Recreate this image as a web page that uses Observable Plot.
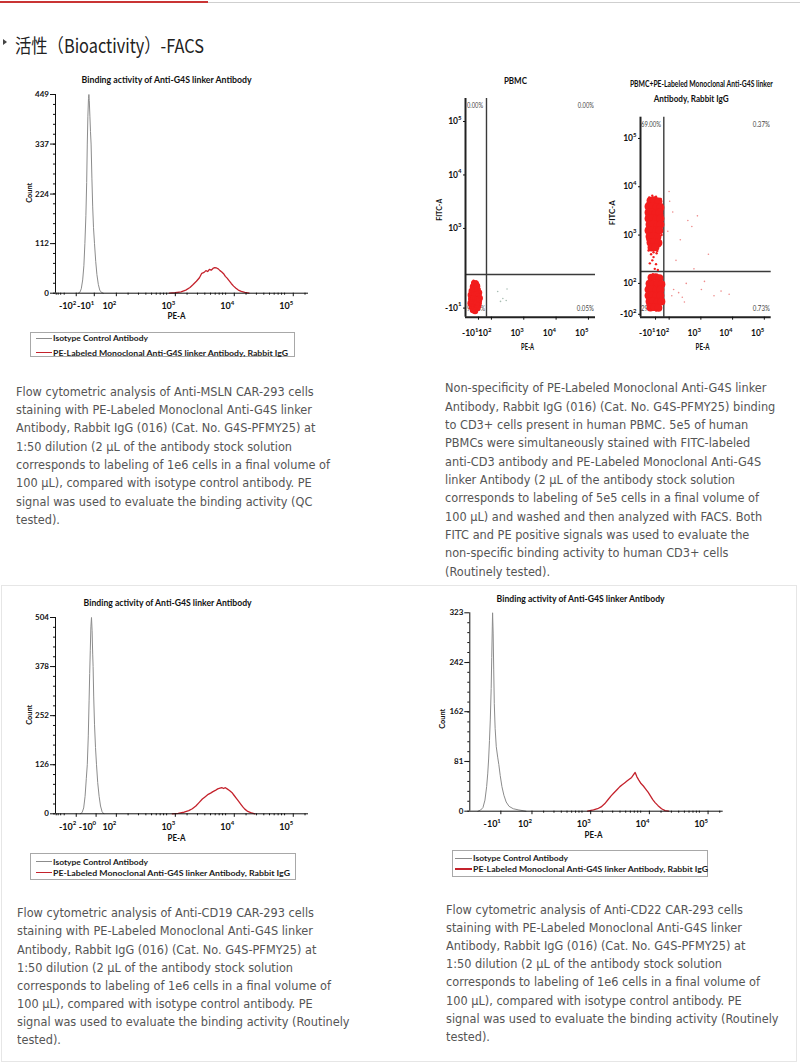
<!DOCTYPE html>
<html><head><meta charset="utf-8">
<script src="https://cdn.jsdelivr.net/npm/d3@7"></script>
<script src="https://cdn.jsdelivr.net/npm/@observablehq/plot@0.6"></script>
<style>
body{margin:0;background:#fff;}
#page{position:relative;width:800px;height:1064px;overflow:hidden;background:#fff;}
.lbl{position:absolute;white-space:nowrap;line-height:1;}
.chart{position:absolute;z-index:2;}
.chart svg{overflow:visible;}
</style></head><body><div id="page"></div>
<script>
// ---------------- DATA ----------------
// Panel 1 (Anti-MSLN CAR-293)
const p1IsoPE    = [-60,-52,-45,-38,-32,-27,-22,-18,-15,-12,-9,-7,-5,-2,1,4,8,12,16,21,27,33,40,47,55,65];
const p1IsoCount = [0,2,10,30,62,112,175,250,337,400,440,449,435,400,365,337,260,195,148,112,72,42,20,7,2,0];
const p1RedPE    = [1000,1260,1580,1900,2240,2510,2880,3240,3550,3890,4170,4470,4790,5130,5500,5890,6310,6760,7240,7760,8320,8910,9550,10230,11220,12300,13490,14790,16600,19050,22390];
const p1RedCount = [0,1,3,7,13,19,27,35,45,47,51,49,54,52,56,58,57,55,51,48,44,38,34,29,22,16,11,7,4,2,0];
const p1YTicks   = [0,112,224,337,449];

// Panel 3 (Anti-CD19 CAR-293)
const p3IsoPE    = [-50,-41,-33,-26,-20,-15,-10,-6,-3,0,3,6,9,12,14,17,21,26,31,37,44,51,59,68];
const p3IsoCount = [0,3,15,45,90,126,200,290,360,420,480,504,470,410,378,300,230,170,126,80,45,20,5,0];
const p3RedPE    = [1122,1413,1778,2138,2455,2818,3162,3631,4074,4571,5012,5495,6026,6607,7244,7762,8318,8913,9550,10471,11482,12589,13804,14791,16218,17783,19055,21380,23988,28184];
const p3RedCount = [0,1,4,8,13,20,28,38,44,50,53,57,60,64,66,67,65,67,64,60,55,47,39,33,25,17,12,6,3,0];
const p3YTicks   = [0,126,252,378,504];

// Panel 4 (Anti-CD22 CAR-293)
const p4IsoPE    = [-70,-60,-52,-45,-39,-35,-32,-29,-26,-23,-21,-19,-18,-16,-14,-12,-9,-5,0,4,9,15,22,30,40,55,75,100];
const p4IsoCount = [0,2,6,18,40,62,85,115,150,200,250,300,323,290,230,175,135,105,88,76,58,40,26,15,8,4,2,0];
const p4RedPE    = [1122,1413,1660,1905,2188,2512,2818,3162,3548,3981,4365,4786,5248,5754,6310,6761,7244,7762,8318,9120,10000,10965,12023,13183,14454,15849,17783,20417,23442,26915];
const p4RedCount = [0,2,4,7,12,19,25,30,35,40,43,46,49,52,55,59,63,56,51,45,41,36,31,25,19,14,9,4,1,0];
const p4YTicks   = [0,81,162,242,323];

// PE-A tick values and labels
const histTickValues = [-100,-10,100,1000,10000,100000];
const p1TickLabels   = ["-10^2","-10^1","10^2","10^3","10^4","10^5"];
const p3TickValues   = [-100,-1,100,1000,10000,100000];
const p3TickLabels   = ["-10^2","-10^0","10^2","10^3","10^4","10^5"];
const p4TickValues   = [-10,100,1000,10000,100000];
const p4TickLabels   = ["-10^1","10^2","10^3","10^4","10^5"];

// Dot plots: [PE-A, FITC-A] events
const pbmcCore = [[-30,95],[-15,92],[-40,80],[-22,78],[-5,82],[-50,62],[-33,65],[-18,60],[0,66],[12,55],[-58,45],[-42,48],[-26,44],[-10,46],[6,40],[18,32],[-55,28],[-38,30],[-20,26],[-4,24],[10,18],[-60,10],[-45,12],[-28,8],[-12,5],[4,2],[-50,-5],[-34,-8],[-18,-12],[-2,-10],[-40,-18],[-22,-22]];
const pbmcEdge = [[-64,60],[-66,30],[-62,-8],[24,45],[28,20],[20,-5],[-35,105],[-10,102],[-48,88],[8,88],[-30,-25],[-8,-20],[14,70],[-68,40],[26,8]];
const pbmcSparse = [[180,60],[260,30],[350,70],[330,22],[220,18]];

const cd3Core = [[-35,5190],[-2,5300],[30,5000],[-51,3900],[-19,4000],[14,3800],[46,3700],[-51,2930],[-27,3000],[6,2850],[38,2950],[-51,2200],[-19,2250],[14,2150],[46,2200],[-43,1655],[-11,1700],[22,1600],[46,1650],[-51,1245],[-19,1280],[14,1220],[38,1250],[-43,935],[-11,960],[22,910],[-35,703],[-2,720],[30,690],[-27,552],[6,560]];
const cd3Edge = [[-62,4500],[-66,2500],[-64,1400],[-60,800],[58,4300],[62,2600],[60,1800],[55,1000],[-20,6500],[10,6200],[-45,6000],[40,600],[-50,480],[20,470],[-10,440],[48,5600],[-20,300],[10,250],[-30,400],[0,200],[-10,350],[25,190],[-40,260],[15,420]];
const negCore = [[-27,132],[6,135],[38,128],[-43,99],[-11,97],[22,99],[54,95],[-51,60],[-19,62],[14,58],[46,60],[-51,21],[-19,23],[14,19],[46,21],[-43,-17],[-11,-15],[22,-19],[54,-17],[-35,-56],[-2,-54],[30,-58]];
const negEdge = [[-62,80],[-60,0],[-58,-40],[62,40],[60,-30],[-15,155],[20,150],[-40,-70],[10,-75],[65,80]];
const stainSparse = [[120,5000],[150,3000],[260,800],[450,2000],[900,2500],[190,300],[700,200],[400,100],[1200,60],[3000,20],[140,20],[230,40],[350,-20],[5000,50],[9000,30],[1500,110],[105,1200],[115,8000],[600,1500],[2000,400],[160,60],[300,10]];

const dotXTicks  = [-10,100,1000,10000,100000];
const dotXLabels = ["-10^1","10^2","10^3","10^4","10^5"];
const pbmcYTicks  = [-10,1000,10000,100000];
const pbmcYLabels = ["-10^1","10^3","10^4","10^5"];
const stainYTicks  = [-100,100,1000,10000,100000];
const stainYLabels = ["-10^2","10^2","10^3","10^4","10^5"];

const pbmcPct  = ["0.00%","0.00%","99.95%","0.05%"];
const stainPct = ["69.00%","0.37%","29.90%","0.73%"];

const legendNames = ["Isotype Control Antibody","PE-Labeled Monoclonal Anti-G4S linker Antibody, Rabbit IgG"];
const histTitle = "Binding activity of Anti-G4S linker Antibody";

const cap1 = ["Flow cytometric analysis of Anti-MSLN CAR-293 cells","staining with PE-Labeled Monoclonal Anti-G4S linker","Antibody, Rabbit IgG (016) (Cat. No. G4S-PFMY25) at","1:50 dilution (2 μL of the antibody stock solution","corresponds to labeling of 1e6 cells in a final volume of","100 μL), compared with isotype control antibody. PE","signal was used to evaluate the binding activity (QC","tested)."];
const cap2 = ["Non-specificity of PE-Labeled Monoclonal Anti-G4S linker","Antibody, Rabbit IgG (016) (Cat. No. G4S-PFMY25) binding","to CD3+ cells present in human PBMC. 5e5 of human","PBMCs were simultaneously stained with FITC-labeled","anti-CD3 antibody and PE-Labeled Monoclonal Anti-G4S","linker Antibody (2 μL of the antibody stock solution","corresponds to labeling of 5e5 cells in a final volume of","100 μL) and washed and then analyzed with FACS. Both","FITC and PE positive signals was used to evaluate the","non-specific binding activity to human CD3+ cells","(Routinely tested)."];
const cap3 = ["Flow cytometric analysis of Anti-CD19 CAR-293 cells","staining with PE-Labeled Monoclonal Anti-G4S linker","Antibody, Rabbit IgG (016) (Cat. No. G4S-PFMY25) at","1:50 dilution (2 μL of the antibody stock solution","corresponds to labeling of 1e6 cells in a final volume of","100 μL), compared with isotype control antibody. PE","signal was used to evaluate the binding activity (Routinely","tested)."];
const cap4 = ["Flow cytometric analysis of Anti-CD22 CAR-293 cells","staining with PE-Labeled Monoclonal Anti-G4S linker","Antibody, Rabbit IgG (016) (Cat. No. G4S-PFMY25) at","1:50 dilution (2 μL of the antibody stock solution","corresponds to labeling of 1e6 cells in a final volume of","100 μL), compared with isotype control antibody. PE","signal was used to evaluate the binding activity (Routinely","tested)."];

// ---------------- HELPERS ----------------
const page = document.getElementById("page");
const NS = "http://www.w3.org/2000/svg";
const ISO = "#8c8c8c", RED = "#c4222c", DOT = "#f21d1d";

// biexponential-like display: linear around zero, log10 above 100
function biex(z) {
  const c = 2 - z;
  return v => v >= 100 ? Math.log10(v) : v >= -100 ? z + c * v / 100 : (z - c) - c * (Math.log10(-v) - 2);
}

function box(left, top, w, h, css) {
  const d = document.createElement("div");
  Object.assign(d.style, {position: "absolute", left: left + "px", top: top + "px", width: w + "px", height: h + "px"}, css || {});
  page.appendChild(d);
  return d;
}

function label(text, x, y, o = {}) {
  const {size = 9, weight = "bold", family = "Lato, sans-serif", color = "#111", anchor = "middle", width = null, scale = null, rotate = false, z = 3} = o;
  const el = document.createElement("div");
  el.className = "lbl"; el.textContent = text;
  Object.assign(el.style, {fontSize: size + "px", fontWeight: weight, fontFamily: family, color, zIndex: z});
  page.appendChild(el);
  const r = el.getBoundingClientRect();
  const w = r.width, h = r.height;
  const k = width ? width / w : (scale || 1);
  el.style.top = (y - h / 2) + "px";
  if (rotate) {
    el.style.left = (x - w / 2) + "px";
    el.style.transformOrigin = "center";
    el.style.transform = `rotate(-90deg) scaleX(${k})`;
  } else {
    el.style.left = (anchor === "start" ? x : anchor === "end" ? x - w : x - w / 2) + "px";
    el.style.transformOrigin = anchor === "start" ? "left center" : anchor === "end" ? "right center" : "center";
    if (k !== 1) el.style.transform = `scaleX(${k})`;
  }
  return el;
}

function measure(text, size, family, weight) {
  const el = document.createElement("span");
  Object.assign(el.style, {position: "absolute", whiteSpace: "nowrap", fontSize: size + "px", fontFamily: family, fontWeight: weight, visibility: "hidden"});
  el.textContent = text; page.appendChild(el);
  const w = el.getBoundingClientRect().width; el.remove(); return w;
}

function supify(svg) {
  svg.querySelectorAll("text").forEach(t => {
    const s = t.textContent, i = s.indexOf("^");
    if (i < 0) return;
    t.textContent = "";
    const a = document.createElementNS(NS, "tspan"); a.textContent = s.slice(0, i);
    const b = document.createElementNS(NS, "tspan"); b.textContent = s.slice(i + 1);
    b.setAttribute("dy", "-4.5"); b.setAttribute("font-size", "6");
    t.append(a, b);
  });
}

function mount(svg, left, top) {
  const div = document.createElement("div");
  div.className = "chart";
  Object.assign(div.style, {left: left + "px", top: top + "px", width: svg.getAttribute("width") + "px"});
  div.appendChild(svg); page.appendChild(div); supify(svg);
}

const plotStyle = {fontFamily: "Lato, sans-serif", fontSize: "9px", fontWeight: "bold", color: "#111", background: "transparent", overflow: "visible"};

function histogram(p) {
  const f = biex(p.z);
  const iso = p.isoPE.map((pe, i) => ({pe, count: p.isoCount[i]}));
  const red = p.redPE.map((pe, i) => ({pe, count: p.redCount[i]}));
  const yMax = p.yTicks[p.yTicks.length - 1];
  const minorY = d3.range(0, yMax, yMax / 20);
  const minorRaw = [];
  for (let d = 2; d <= 5; d++) for (let k = 2; k <= 9; k++) { minorRaw.push(k * 10 ** d); minorRaw.push(-k * 10 ** d); }
  const minorX = minorRaw.map(f).filter(v => v > p.xDomain[0] && v < p.xDomain[1]);
  const labelOf = new Map(p.tickValues.map((v, i) => [f(v), p.tickLabels[i]]));
  const svg = Plot.plot({
    width: p.width, height: p.height,
    marginLeft: p.mL, marginRight: p.mR, marginTop: p.mT, marginBottom: p.mB,
    style: plotStyle,
    x: {domain: p.xDomain, axis: null, label: null},
    y: {domain: [0, yMax], axis: null, label: null},
    marks: [
      Plot.line(iso, {x: d => f(d.pe), y: "count", stroke: ISO, strokeWidth: 1}),
      Plot.line(red, {x: d => f(d.pe), y: "count", stroke: RED, strokeWidth: 1.3}),
      Plot.ruleY([0], {stroke: "#111", strokeWidth: 1}),
      Plot.ruleX([p.xDomain[0]], {stroke: "#111", strokeWidth: 1}),
      Plot.axisY(minorY, {tickSize: 2, tickFormat: () => "", label: null}),
      Plot.axisY(p.yTicks, {tickSize: 5, tickPadding: 1.5, fontSize: 8, tickFormat: d => String(d), label: null}),
      Plot.axisX(minorX, {tickSize: 2, tickFormat: () => "", label: null}),
      Plot.axisX(p.tickValues.map(f), {tickSize: 3.5, tickPadding: 6, textAnchor: "end", dx: 6, tickFormat: v => labelOf.get(v), label: null})
    ]
  });
  mount(svg, p.left, p.top);
}

function dotplot(p) {
  const fx = biex(p.zx), fy = biex(p.zy);
  const xl = new Map(dotXTicks.map((v, i) => [fx(v), dotXLabels[i]]));
  const yl = new Map(p.yTicks.map((v, i) => [fy(v), p.yLabels[i]]));
  const X = d => fx(d[0]), Y = d => fy(d[1]);
  const svg = Plot.plot({
    width: p.width, height: p.height,
    marginLeft: p.mL, marginRight: p.mR, marginTop: p.mT, marginBottom: p.mB,
    style: plotStyle,
    x: {domain: p.xDomain, axis: null, label: null},
    y: {domain: p.yDomain, axis: null, label: null},
    marks: [
      Plot.ruleX([p.gate[0]], {x: fx, stroke: "#3a3a3a", strokeWidth: 1.4}),
      Plot.ruleY([p.gate[1]], {y: fy, stroke: "#3a3a3a", strokeWidth: 1.4}),
      Plot.dot(p.sparse, {x: X, y: Y, r: 0.8, fill: p.sparseColor, stroke: "none"}),
      ...p.cores.map(c => Plot.dot(c, {x: X, y: Y, r: p.coreR, fill: DOT, stroke: "none"})),
      ...p.edges.map(c => Plot.dot(c, {x: X, y: Y, r: 1.2, fill: DOT, stroke: "none"})),
      Plot.ruleX([p.xDomain[0]], {stroke: "#222", strokeWidth: 2}),
      Plot.ruleY([p.yDomain[0]], {stroke: "#222", strokeWidth: 2}),
      Plot.axisX(dotXTicks.map(fx), {tickSize: 3, tickPadding: 10, textAnchor: "end", dx: 2, fontSize: 8.5, tickFormat: v => xl.get(v), label: null}),
      Plot.axisY(p.yTicks.map(fy), {tickSize: 2, tickPadding: 2, fontSize: 8.5, tickFormat: v => yl.get(v), label: null})
    ]
  });
  mount(svg, p.left, p.top);
}

function legend(bx, by, bw, bh, rows, lx1, lx2, tx, tw) {
  box(bx, by, bw, bh, {border: "1px solid #a8a8a8", boxSizing: "border-box", zIndex: 1});
  const colors = [ISO, RED];
  rows.forEach((ry, i) => {
    box(lx1, ry - 0.6, lx2 - lx1, 1.3, {background: colors[i], zIndex: 2});
    label(legendNames[i], tx, ry, {size: 8, anchor: "start", width: tw[i], color: "#1a1a1a"});
  });
}

function caption(lines, x, y0, step, k) {
  lines.forEach((t, i) => label(t, x, y0 + i * step, {size: 12, weight: "normal", family: "DejaVu Sans, sans-serif", color: "#555", anchor: "start", scale: k}));
}

// ---------------- PAGE ----------------
box(0, 1, 208, 2, {background: "#c93434"});
box(208, 1.5, 592, 1.2, {background: "#cfcfcf"});
box(1, 585, 796, 477, {border: "1px solid #e6e6e6", boxSizing: "border-box", zIndex: 0});
box(3, 39, 0, 0, {borderLeft: "4px solid #444", borderTop: "3px solid transparent", borderBottom: "3px solid transparent"});
label("活性（Bioactivity）-FACS", 15, 44, {size: 19, weight: "normal", family: "'Noto Sans CJK SC', sans-serif", color: "#222", anchor: "start", width: 189});

// Histogram panel 1
histogram({isoPE: p1IsoPE, isoCount: p1IsoCount, redPE: p1RedPE, redCount: p1RedCount, yTicks: p1YTicks,
  z: 1.66, xDomain: [1.07, 5.36], tickValues: histTickValues, tickLabels: p1TickLabels,
  left: 0, top: 70, width: 320, height: 250, mL: 55, mR: 12, mT: 24, mB: 27.3});
label(histTitle, 166.7, 80, {size: 8.5, width: 170});
label("Count", 30.5, 193, {size: 7.5, rotate: true, width: 20});
label("PE-A", 176.7, 316.7, {size: 8.5, width: 18});
legend(30, 331.7, 265, 25.6, [338.3, 352.7], 36, 52, 53, [95, 235]);

// Histogram panel 3
histogram({isoPE: p3IsoPE, isoCount: p3IsoCount, redPE: p3RedPE, redCount: p3RedCount, yTicks: p3YTicks,
  z: 1.66, xDomain: [1.07, 5.36], tickValues: p3TickValues, tickLabels: p3TickLabels,
  left: 0, top: 590, width: 320, height: 250, mL: 55, mR: 12, mT: 27, mB: 26.7});
label(histTitle, 167.5, 603.3, {size: 8.5, width: 168});
label("Count", 30.5, 715, {size: 7.5, rotate: true, width: 20});
label("PE-A", 176.7, 838.3, {size: 8.5, width: 18});
legend(30, 853.3, 266, 26.7, [861.7, 872.7], 36, 52, 53.3, [95, 237]);

// Histogram panel 4
histogram({isoPE: p4IsoPE, isoCount: p4IsoCount, redPE: p4RedPE, redCount: p4RedCount, yTicks: p4YTicks,
  z: 1.518, xDomain: [1.043, 5.36], tickValues: p4TickValues, tickLabels: p4TickLabels,
  left: 420, top: 585, width: 320, height: 250, mL: 49.3, mR: 17.3, mT: 27.3, mB: 24.3});
label(histTitle, 580.8, 599, {size: 8.5, width: 168});
label("Count", 443.5, 718.3, {size: 7.5, rotate: true, width: 20});
label("PE-A", 593.3, 835, {size: 8.5, width: 18});
legend(451.7, 850, 256.6, 26.7, [858.3, 869], 455, 471.7, 473.3, [95, 235]);

// Dot plot: PBMC
dotplot({zx: 1.636, zy: 1.555, xDomain: [1.26, 5.28], yDomain: [1.34, 5.43], gate: [75, 138],
  yTicks: pbmcYTicks, yLabels: pbmcYLabels, sparse: pbmcSparse, sparseColor: "#a9bdb3",
  cores: [pbmcCore], edges: [pbmcEdge], coreR: 3.2,
  left: 430, top: 70, width: 180, height: 290, mL: 35, mR: 15, mT: 28, mB: 43.3});
// Dot plot: PBMC + antibody
dotplot({zx: 1.61, zy: 1.68, xDomain: [1.16, 5.28], yDomain: [1.30, 5.44], gate: [73, 176],
  yTicks: stainYTicks, yLabels: stainYLabels, sparse: stainSparse, sparseColor: "#ee8c8c",
  cores: [cd3Core, negCore], edges: [cd3Edge, negEdge], coreR: 3.9,
  left: 605, top: 70, width: 180, height: 290, mL: 35, mR: 14.3, mT: 46.7, mB: 43.3});

label("PBMC", 515, 80, {size: 10, width: 23});
label("PBMC+PE-Labeled Monoclonal Anti-G4S linker", 701.5, 83, {size: 10, width: 143});
label("Antibody, Rabbit IgG", 690.8, 98.3, {size: 10, width: 75});
label("PE-A", 528, 347, {size: 8.5, width: 13});
label("PE-A", 703, 347, {size: 8.5, width: 14});
label("FITC-A", 440, 210, {size: 7.5, rotate: true, width: 22});
label("FITC-A", 613, 213, {size: 7.5, rotate: true, width: 25});

const pctStyle = {size: 7.5, weight: "normal", color: "#444"};
label(pbmcPct[0], 466.5, 106, {...pctStyle, anchor: "start", width: 16});
label(pbmcPct[1], 594, 106, {...pctStyle, anchor: "end", width: 16});
label(pbmcPct[2], 467, 309, {...pctStyle, anchor: "start", width: 18, z: 1});
label(pbmcPct[3], 594, 309, {...pctStyle, anchor: "end", width: 17});
label(stainPct[0], 641, 125, {...pctStyle, anchor: "start", width: 20});
label(stainPct[1], 770, 125, {...pctStyle, anchor: "end", width: 17});
label(stainPct[2], 641, 309, {...pctStyle, anchor: "start", width: 20, z: 1});
label(stainPct[3], 770, 309, {...pctStyle, anchor: "end", width: 17});

// Captions
const capK = 314 / measure(cap1[4], 12, "DejaVu Sans, sans-serif", "normal");
caption(cap1, 16, 391.7, 18.33, capK);
caption(cap2, 445, 388.3, 18.34, capK);
caption(cap3, 16.7, 913.3, 18.1, capK);
caption(cap4, 446, 910, 18.1, capK);
</script></body></html>
